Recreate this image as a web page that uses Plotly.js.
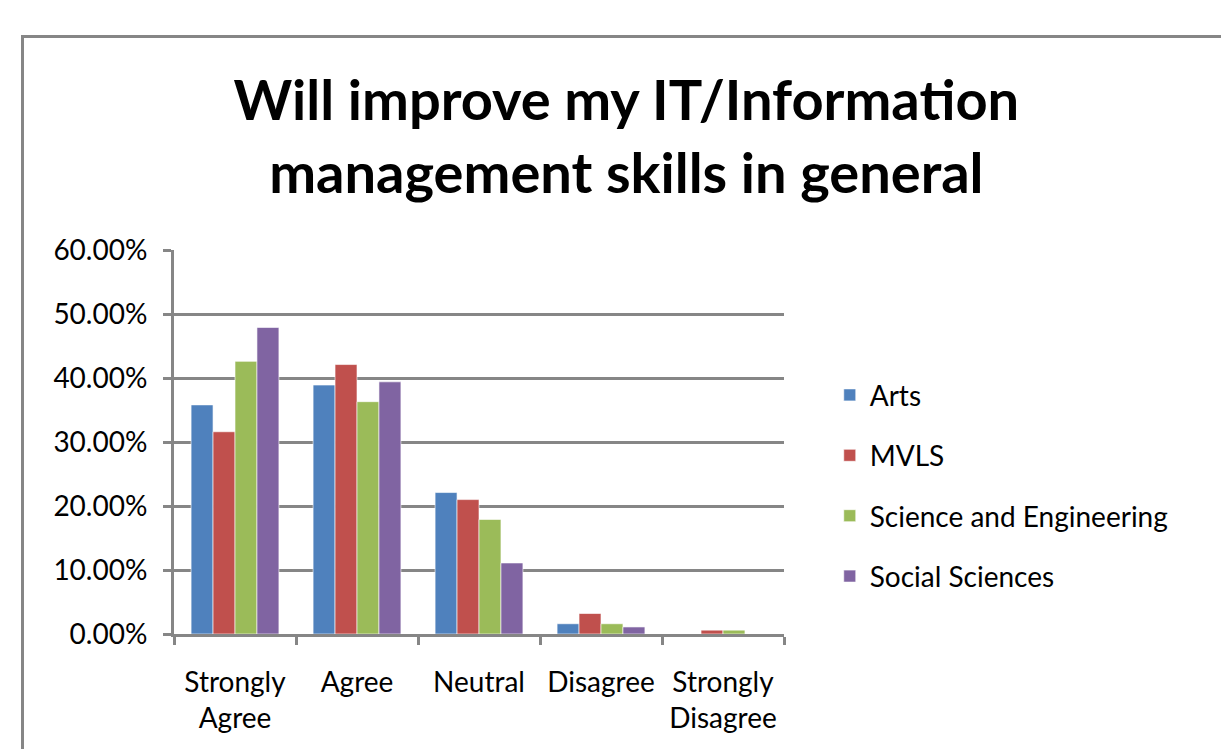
<!DOCTYPE html>
<html><head><meta charset="utf-8">
<script src="https://cdn.plot.ly/plotly-3.0.1.min.js"></script>
<style>
body{margin:0;padding:0;background:#fff;overflow:hidden;}
#chart{position:absolute;left:0;top:0;width:1221px;height:749px;}
#frame{position:absolute;left:21px;top:35px;width:1300px;height:800px;border:3px solid #868686;pointer-events:none;}
</style></head>
<body>
<div id="frame"></div>
<div id="chart"></div>
<script>
const categories = ["Strongly<br>Agree", "Agree", "Neutral", "Disagree", "Strongly<br>Disagree"];
const seriesNames = ["Arts", "MVLS", "Science and Engineering", "Social Sciences"];
const arts = [0.358, 0.389, 0.221, 0.016, 0.000];
const mvls = [0.316, 0.421, 0.210, 0.032, 0.006];
const sciEng = [0.426, 0.363, 0.179, 0.016, 0.006];
const socSci = [0.479, 0.394, 0.111, 0.011, 0.000];
const colors = ["#4F81BD", "#C0504D", "#9BBB59", "#8064A2"];
const yTickVals = [0, 0.1, 0.2, 0.3, 0.4, 0.5, 0.6];
const yTickText = ["0.00%", "10.00%", "20.00%", "30.00%", "40.00%", "50.00%", "60.00%"];

const allSeries = [arts, mvls, sciEng, socSci];
const traces = allSeries.map((vals, i) => ({
  type: "bar",
  name: seriesNames[i],
  x: categories,
  y: vals,
  legendgroup: "g" + i,
  marker: {color: colors[i], line: {color: "rgba(255,255,255,0.6)", width: 1}},
  hoverinfo: "x+y+name"
}));

const fontFam = "Lato, 'Liberation Sans', sans-serif";
const layout = {
  width: 1221, height: 749,
  paper_bgcolor: "rgba(0,0,0,0)",
  plot_bgcolor: "rgba(0,0,0,0)",
  margin: {l: 174, r: 437, t: 250, b: 115},
  title: {
    text: "<b>Will improve my IT/Information<br>management skills in general</b>",
    font: {family: fontFam, size: 56, color: "#000"},
    x: 0.513, xref: "container", xanchor: "center",
    y: 0.84, yref: "container", yanchor: "middle"
  },
  barmode: "group",
  bargap: 0.28,
  bargroupgap: 0,
  showlegend: true,
  legend: {
    x: 1.075, xanchor: "left", y: 0.687, yanchor: "top",
    font: {family: fontFam, size: 28, color: "#000"},
    traceorder: "grouped",
    tracegroupgap: 21,
    itemwidth: 30
  },
  xaxis: {
    type: "category",
    showline: true, linecolor: "#868686", linewidth: 3,
    ticks: "outside", ticklen: 8, tickwidth: 3, tickcolor: "#868686",
    tickson: "boundaries",
    tickfont: {family: fontFam, size: 28, color: "#000"},
    ticklabelstandoff: 21,
    showgrid: false
  },
  yaxis: {
    range: [0, 0.6],
    tickvals: yTickVals, ticktext: yTickText,
    showline: true, linecolor: "#868686", linewidth: 3,
    ticks: "outside", ticklen: 8, tickwidth: 3, tickcolor: "#868686",
    tickfont: {family: fontFam, size: 28, color: "#000"},
    showgrid: true, gridcolor: "#868686", gridwidth: 3,
    zeroline: false,
    ticklabelstandoff: 10
  }
};
Plotly.newPlot("chart", traces, layout, {displayModeBar: false, staticPlot: true});
</script>
</body></html>
